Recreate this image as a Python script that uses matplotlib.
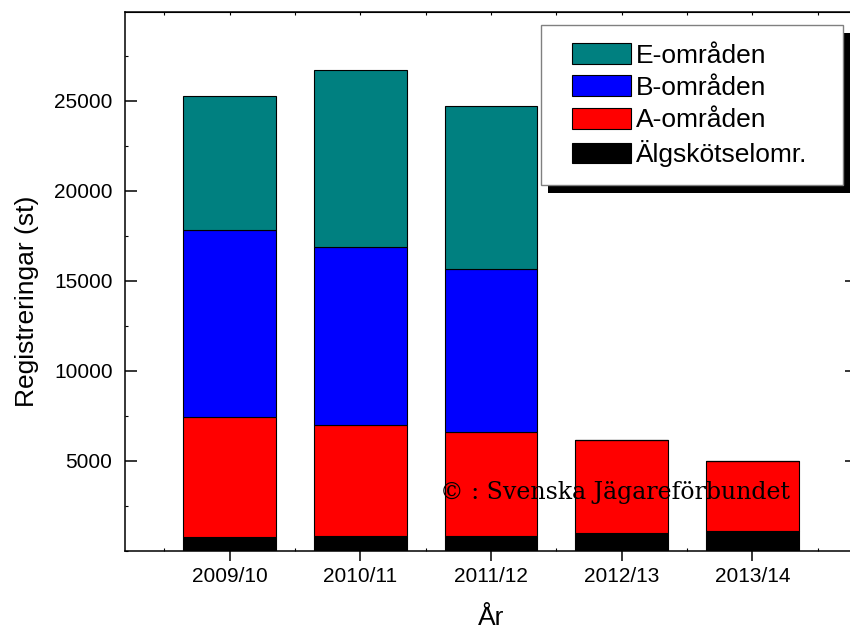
import numpy as np
import matplotlib
matplotlib.use('Agg')
import matplotlib.pyplot as plt
from matplotlib.patches import Rectangle
from matplotlib.ticker import MultipleLocator, FixedLocator

plt.rcParams['font.family'] = ['Liberation Sans', 'DejaVu Sans']

# data (stacked segments, st)
years = ['2009/10', '2010/11', '2011/12', '2012/13', '2013/14']
algskotsel = [780, 830, 830, 980, 1080]
a_omr = [6630, 6170, 5750, 5150, 3900]
b_omr = [10390, 9870, 9070, 0, 0]
e_omr = [7480, 9820, 9040, 0, 0]

fig = plt.figure(figsize=(8.5, 6.3), dpi=100)
ax = fig.add_axes([125 / 850, 79.3 / 630, 732 / 850, 538.7 / 630])

x = np.arange(len(years))
bottom = np.zeros(len(years))
series = [(algskotsel, '#000000', 'Älgskötselomr.'),
          (a_omr, '#ff0000', 'A-områden'),
          (b_omr, '#0000ff', 'B-områden'),
          (e_omr, '#008080', 'E-områden')]
handles = []
for vals, col, lab in series:
    h = ax.bar(x, vals, 0.71, bottom=bottom, color=col, edgecolor='black',
               linewidth=0.8, label=lab, zorder=2)
    handles.append(h)
    bottom += np.array(vals)

ax.set_xlim(-0.8, 4.8)
ax.set_ylim(0, 29930)

for s in ax.spines.values():
    s.set_linewidth(1.1)

# x ticks
ax.set_xticks(x, years)
ax.xaxis.set_minor_locator(FixedLocator(np.arange(-0.5, 5, 1)))
ax.tick_params(axis='x', which='major', direction='out', length=7, width=1.1,
               labelsize=15, pad=5, top=False)
ax.tick_params(axis='x', which='minor', direction='in', length=2, width=0.8,
               top=False, bottom=True)
sec = ax.secondary_xaxis('top')
sec.set_xticks(np.arange(-0.5, 5, 0.5))
sec.set_xticklabels([])
sec.tick_params(axis='x', direction='in', length=2, width=0.8)

# y ticks
ax.set_yticks([5000, 10000, 15000, 20000, 25000])
ax.yaxis.set_minor_locator(MultipleLocator(2500))
ax.tick_params(axis='y', which='major', direction='in', length=8.5, width=1.1,
               labelsize=15, pad=9, right=True)
ax.tick_params(axis='y', which='minor', direction='in', length=2, width=0.8,
               right=True)

ax.set_ylabel('Registreringar (st)', fontsize=19)
ax.yaxis.set_label_coords(-0.117, 0.463)
ax.set_xlabel('År', fontsize=19, labelpad=14)

# legend with box + solid shadow
lx0, lx1 = (541 - 125) / 732, (843 - 125) / 732
ly0, ly1 = (550.7 - 185) / 538.7, (550.7 - 25) / 538.7
ax.add_patch(Rectangle((lx0 + 7 / 732, ly0 - 8 / 538.7), lx1 - lx0, ly1 - ly0,
                       transform=ax.transAxes, facecolor='black',
                       edgecolor='none', clip_on=False, zorder=5))
ax.add_patch(Rectangle((lx0, ly0), lx1 - lx0, ly1 - ly0,
                       transform=ax.transAxes, facecolor='white',
                       edgecolor='#808080', linewidth=1, clip_on=False, zorder=6))
leg = ax.legend(handles[::-1], [s[2] for s in series][::-1], loc='upper left',
                bbox_to_anchor=((572 - 125) / 732, (550.7 - 43) / 538.7),
                frameon=False, fontsize=19, borderpad=0, borderaxespad=0,
                handlelength=2.23, handleheight=0.83, handletextpad=0.2,
                labelspacing=0.3)
leg.set_zorder(7)

ax.text(2.95, 3260, '© : Svenska Jägareförbundet', fontsize=17,
        family='DejaVu Serif', ha='center', va='center', zorder=8)

fig.savefig('out.png', dpi=100)
